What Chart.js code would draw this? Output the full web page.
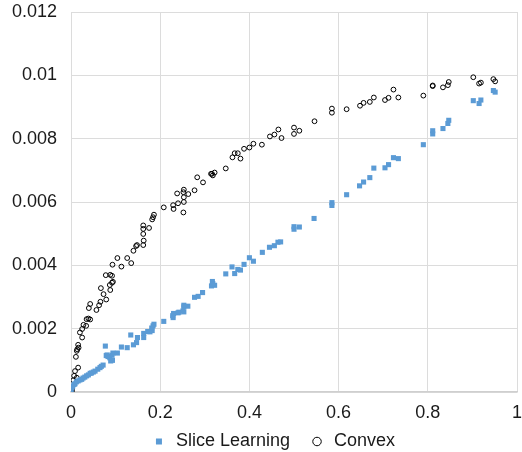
<!DOCTYPE html>
<html>
<head>
<meta charset="utf-8">
<script src="https://cdn.jsdelivr.net/npm/chart.js@4/dist/chart.umd.min.js"></script>
<style>
  html, body { margin: 0; padding: 0; background: #fff; }
  #wrap { width: 522px; height: 452px; }
</style>
</head>
<body>
<div id="wrap"><canvas id="chart"></canvas></div>
<script>
// valeurs
const xTicks = [0, 0.2, 0.4, 0.6, 0.8, 1];
const yTickLabels = ['0', '0.002', '0.004', '0.006', '0.008', '0.01', '0.012'];

const sliceX = [0.000, 0.000, 0.002, 0.004, 0.007, 0.009, 0.012, 0.016, 0.020, 0.024,
  0.027, 0.031, 0.035, 0.039, 0.043, 0.046, 0.050, 0.054, 0.060, 0.065,
  0.068, 0.072, 0.077, 0.079, 0.081, 0.083, 0.087, 0.089, 0.092, 0.093,
  0.094, 0.104, 0.113, 0.126, 0.134, 0.140, 0.147, 0.149, 0.163, 0.163,
  0.172, 0.177, 0.182, 0.181, 0.184, 0.186, 0.208, 0.229, 0.228, 0.230,
  0.240, 0.242, 0.251, 0.253, 0.253, 0.253, 0.262, 0.277, 0.285, 0.295,
  0.315, 0.317, 0.322, 0.318, 0.347, 0.361, 0.367, 0.374, 0.380, 0.388,
  0.400, 0.409, 0.429, 0.445, 0.456, 0.464, 0.470, 0.500, 0.500, 0.512,
  0.545, 0.585, 0.585, 0.618, 0.647, 0.656, 0.670, 0.679, 0.704, 0.712,
  0.723, 0.734, 0.790, 0.811, 0.811, 0.834, 0.845, 0.847, 0.902, 0.915,
  0.919, 0.947, 0.951];
const sliceY = [0.00000, 0.00006, 0.00014, 0.00019, 0.00024, 0.00026, 0.00032, 0.00035, 0.00038, 0.00040,
  0.00044, 0.00047, 0.00051, 0.00054, 0.00059, 0.00060, 0.00063, 0.00066, 0.00072, 0.00077,
  0.00081, 0.00085, 0.00145, 0.00115, 0.00117, 0.00112, 0.00108, 0.00098, 0.00116, 0.00100,
  0.00123, 0.00123, 0.00142, 0.00140, 0.00180, 0.00149, 0.00156, 0.00172, 0.00172, 0.00185,
  0.00191, 0.00190, 0.00194, 0.00202, 0.00209, 0.00214, 0.00223, 0.00235, 0.00241, 0.00248,
  0.00250, 0.00252, 0.00256, 0.00253, 0.00269, 0.00274, 0.00271, 0.00299, 0.00302, 0.00314,
  0.00335, 0.00349, 0.00337, 0.00342, 0.00373, 0.00395, 0.00374, 0.00387, 0.00385, 0.00403,
  0.00424, 0.00413, 0.00441, 0.00457, 0.00462, 0.00473, 0.00474, 0.00522, 0.00514, 0.00521,
  0.00548, 0.00598, 0.00589, 0.00623, 0.00651, 0.00663, 0.00677, 0.00707, 0.00708, 0.00718,
  0.00740, 0.00737, 0.00781, 0.00825, 0.00815, 0.00832, 0.00848, 0.00858, 0.00920, 0.00911,
  0.00922, 0.00952, 0.00947];

const convexX = [0.000, 0.002, 0.002, 0.005, 0.007, 0.013, 0.009, 0.016, 0.011, 0.013,
  0.017, 0.014, 0.016, 0.025, 0.020, 0.025, 0.028, 0.034, 0.035, 0.039,
  0.043, 0.040, 0.043, 0.057, 0.063, 0.066, 0.067, 0.079, 0.073, 0.088,
  0.087, 0.092, 0.094, 0.092, 0.088, 0.078, 0.093, 0.104, 0.113, 0.126,
  0.135, 0.140, 0.146, 0.148, 0.162, 0.163, 0.162, 0.162, 0.162, 0.175,
  0.182, 0.184, 0.186, 0.208, 0.229, 0.230, 0.238, 0.240, 0.252, 0.253,
  0.253, 0.252, 0.253, 0.263, 0.277, 0.283, 0.296, 0.314, 0.316, 0.318,
  0.322, 0.347, 0.362, 0.367, 0.374, 0.380, 0.388, 0.400, 0.409, 0.428,
  0.446, 0.456, 0.465, 0.472, 0.500, 0.500, 0.512, 0.546, 0.585, 0.585,
  0.618, 0.648, 0.656, 0.670, 0.679, 0.704, 0.712, 0.723, 0.734, 0.790,
  0.811, 0.811, 0.834, 0.845, 0.847, 0.902, 0.915, 0.919, 0.947, 0.951];
const convexY = [0.00000, 0.00003, 0.00009, 0.00037, 0.00051, 0.00045, 0.00066, 0.00077, 0.00111, 0.00130,
  0.00140, 0.00135, 0.00149, 0.00172, 0.00188, 0.00199, 0.00212, 0.00209, 0.00230, 0.00232,
  0.00229, 0.00265, 0.00278, 0.00259, 0.00274, 0.00285, 0.00328, 0.00292, 0.00309, 0.00322,
  0.00338, 0.00345, 0.00348, 0.00367, 0.00370, 0.00369, 0.00402, 0.00423, 0.00396, 0.00423,
  0.00407, 0.00446, 0.00461, 0.00464, 0.00464, 0.00478, 0.00499, 0.00515, 0.00526, 0.00518,
  0.00545, 0.00552, 0.00560, 0.00583, 0.00590, 0.00578, 0.00627, 0.00596, 0.00567, 0.00600,
  0.00615, 0.00631, 0.00639, 0.00625, 0.00637, 0.00678, 0.00662, 0.00689, 0.00689, 0.00684,
  0.00693, 0.00706, 0.00741, 0.00754, 0.00754, 0.00737, 0.00768, 0.00772, 0.00784, 0.00781,
  0.00807, 0.00813, 0.00829, 0.00802, 0.00835, 0.00815, 0.00825, 0.00855, 0.00895, 0.00882,
  0.00893, 0.00904, 0.00913, 0.00916, 0.00930, 0.00922, 0.00929, 0.00955, 0.00930, 0.00936,
  0.00968, 0.00966, 0.00962, 0.00969, 0.00979, 0.00994, 0.00974, 0.00977, 0.00988, 0.00981];

const toPoints = (xs, ys) => xs.map((x, i) => ({ x: x, y: ys[i] }));

Chart.defaults.font.family = '"Liberation Sans", Arial, sans-serif';
Chart.defaults.font.size = 18;
Chart.defaults.color = '#1a1a1a';

new Chart(document.getElementById('chart').getContext('2d'), {
  type: 'scatter',
  data: {
    datasets: [
      {
        label: 'Slice Learning',
        data: toPoints(sliceX, sliceY),
        pointStyle: 'rect',
        pointRadius: 3.6,
        pointBorderWidth: 0,
        backgroundColor: '#5B9BD5',
        borderColor: '#5B9BD5',
        borderWidth: 0
      },
      {
        label: 'Convex',
        data: toPoints(convexX, convexY),
        pointStyle: 'circle',
        pointRadius: 2.4,
        pointBorderWidth: 1,
        backgroundColor: 'rgba(255,255,255,0)',
        borderColor: '#000',
        borderWidth: 1
      }
    ]
  },
  options: {
    responsive: true,
    maintainAspectRatio: false,
    animation: false,
    // marges négatives : décale la légende comme dans l'original
    layout: { padding: { top: 0, right: -24, bottom: -8.5, left: 0 } },
    scales: {
      x: {
        type: 'linear',
        min: 0, max: 1,
        afterBuildTicks: axis => { axis.ticks = xTicks.map(v => ({ value: v })); },
        afterFit: axis => {
          axis.height = 21.5; axis.paddingRight = 4; axis.paddingLeft = 0;
          axis._computeLabelArea = () => null; // pas de découpe des libellés
        },
        grid: { color: '#dcdcdc', lineWidth: 1, drawTicks: false },
        border: { color: '#cfcfcf', width: 1.5 },
        ticks: { padding: 10, callback: v => String(v) }
      },
      y: {
        min: 0, max: 0.012,
        afterFit: axis => { axis.width = 71; axis.paddingTop = 12; axis.paddingBottom = 0; },
        ticks: {
          stepSize: 0.002,
          padding: 14,
          callback: (v, i) => yTickLabels[i]
        },
        grid: { color: '#dcdcdc', lineWidth: 1, drawTicks: false },
        border: { color: '#dcdcdc', width: 1 }
      }
    },
    plugins: {
      legend: {
        position: 'bottom',
        labels: {
          usePointStyle: true,
          boxWidth: 16,
          boxHeight: 6,
          padding: 19,
          color: '#1a1a1a'
        }
      },
      tooltip: { enabled: false }
    }
  }
});
</script>
</body>
</html>
